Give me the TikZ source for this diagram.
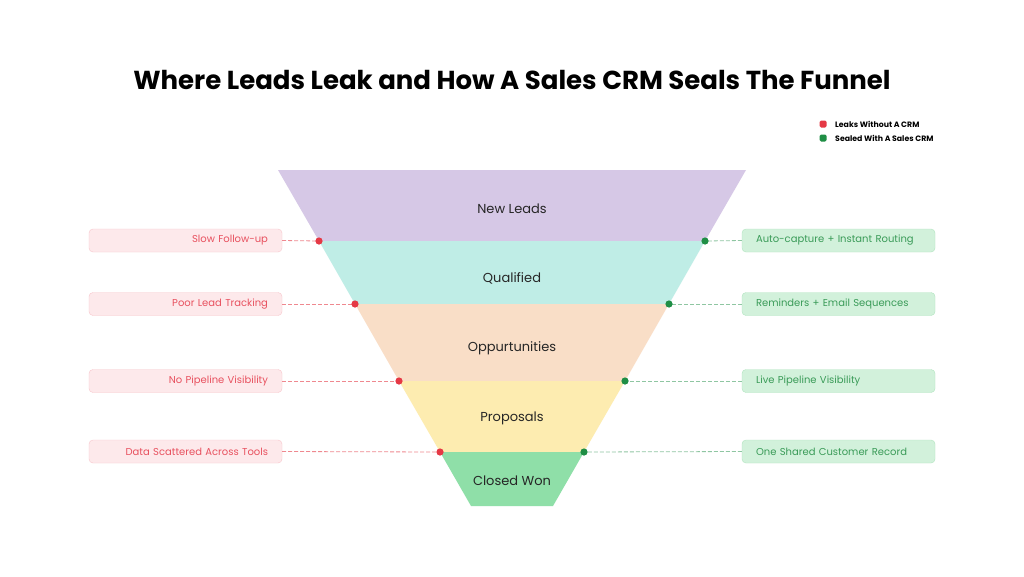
\documentclass[tikz,border=0pt]{standalone}
\usepackage{fontspec}
\setmainfont{Poppins}
\usetikzlibrary{positioning}

\definecolor{bandA}{HTML}{D6C8E6}
\definecolor{bandB}{HTML}{BFEDE6}
\definecolor{bandC}{HTML}{F9DEC7}
\definecolor{bandD}{HTML}{FDECB0}
\definecolor{bandE}{HTML}{8FDFA8}
\definecolor{leakdot}{HTML}{E53945}
\definecolor{leakfill}{HTML}{FDE9EB}
\definecolor{leakline}{HTML}{F8C6CC}
\definecolor{leaktext}{HTML}{E8515F}
\definecolor{sealdot}{HTML}{1F8E45}
\definecolor{sealfill}{HTML}{D2F1DB}
\definecolor{sealline}{HTML}{B2E5C0}
\definecolor{sealtext}{HTML}{3A9B58}

\tikzset{
  leakbox/.style={draw=leakline, fill=leakfill, rounded corners=4pt, text=leaktext,
    text width=165pt, align=right, inner xsep=14pt, inner ysep=0pt, minimum height=23pt,
    font=\fontsize{10}{12}\selectfont},
  sealbox/.style={draw=sealline, fill=sealfill, rounded corners=4pt, text=sealtext,
    text width=165pt, align=left, inner xsep=14pt, inner ysep=0pt, minimum height=23pt,
    font=\fontsize{10}{12}\selectfont},
  leakdash/.style={draw=leakdot!60, dash pattern=on 4pt off 2pt, line width=0.8pt},
  sealdash/.style={draw=sealdot!50, dash pattern=on 4pt off 2pt, line width=0.8pt},
  stage/.style={text=black!85, font=\fontsize{13}{15}\selectfont},
  legtext/.style={anchor=west, inner sep=0pt, font=\bfseries\fontsize{7.8}{9}\selectfont}
}

\begin{document}
\begin{tikzpicture}[x=1pt, y=-1pt]
  \useasboundingbox[fill=white] (0,0) rectangle (1024,576);

  % title
  \node[font=\bfseries\fontsize{26}{30}\selectfont] (title) at (512,80)
    {Where Leads Leak and How A Sales CRM Seals The Funnel};

  % legend
  \fill[leakdot, rounded corners=1.5pt] (819.5,120.5) rectangle ++(7,7);
  \node[legtext] (legleak) at (835,124) {Leaks Without A CRM};
  \fill[sealdot, rounded corners=1.5pt] (819.5,134.5) rectangle ++(7,7);
  \node[legtext] (legseal) at (835,138) {Sealed With A Sales CRM};

  % funnel bands
  \fill[bandA] (278,170) -- (746,170) -- (705,241) -- (319,241) -- cycle;
  \fill[bandB] (319,241) -- (705,241) -- (669,304) -- (355,304) -- cycle;
  \fill[bandC] (355,304) -- (669,304) -- (625,381) -- (399,381) -- cycle;
  \fill[bandD] (399,381) -- (625,381) -- (584,452) -- (440,452) -- cycle;
  \fill[bandE] (440,452) -- (584,452) -- (553,506) -- (471,506) -- cycle;

  \node[stage] (newleads) at (512,209) {New Leads};
  \node[stage] (qualified) at (512,278) {Qualified};
  \node[stage] (opps) at (512,348) {Oppurtunities};
  \node[stage] (proposals) at (512,418) {Proposals};
  \node[stage] (won) at (512,481) {Closed Won};

  % leak points
  \coordinate (l1) at (319,241);
  \coordinate (l2) at (355,304);
  \coordinate (l3) at (399,381);
  \coordinate (l4) at (440,452);
  \coordinate (r1) at (705,241);
  \coordinate (r2) at (669,304);
  \coordinate (r3) at (625,381);
  \coordinate (r4) at (584,452);

  % left boxes
  \node[leakbox] (slow) at (185.5,240.5) {Slow Follow-up};
  \node[leakbox] (tracking) at (185.5,304) {Poor Lead Tracking};
  \node[leakbox] (novis) at (185.5,381) {No Pipeline Visibility};
  \node[leakbox] (scattered) at (185.5,451.5) {Data Scattered Across Tools};

  % right boxes
  \node[sealbox] (capture) at (838.5,240.5) {Auto-capture + Instant Routing};
  \node[sealbox] (reminders) at (838.5,304) {Reminders + Email Sequences};
  \node[sealbox] (livevis) at (838.5,381) {Live Pipeline Visibility};
  \node[sealbox] (record) at (838.5,451.5) {One Shared Customer Record};

  % connectors
  \draw[leakdash] (slow.east) -- (l1);
  \draw[leakdash] (tracking.east) -- (l2);
  \draw[leakdash] (novis.east) -- (l3);
  \draw[leakdash] (scattered.east) -- (l4);
  \draw[sealdash] (capture.west) -- (r1);
  \draw[sealdash] (reminders.west) -- (r2);
  \draw[sealdash] (livevis.west) -- (r3);
  \draw[sealdash] (record.west) -- (r4);

  \foreach \p in {l1,l2,l3,l4} \fill[leakdot] (\p) circle (3.6pt);
  \foreach \p in {r1,r2,r3,r4} \fill[sealdot] (\p) circle (3.6pt);
\end{tikzpicture}
\end{document}
